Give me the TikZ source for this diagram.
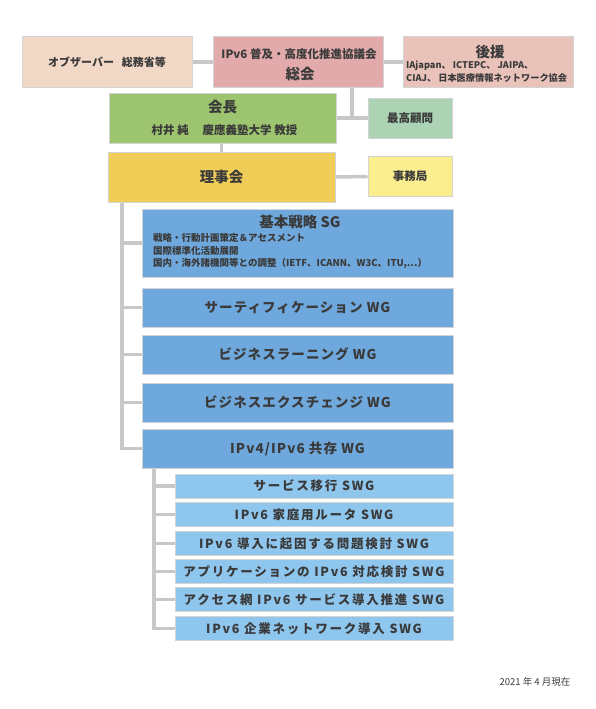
\documentclass[tikz,border=0pt]{standalone}
\usepackage{fontspec}
\setmainfont{Noto Sans CJK JP}
\definecolor{txt}{HTML}{3A3A3A}
\definecolor{conn}{HTML}{C8C8C8}
\definecolor{bord}{HTML}{D4D4D4}
\definecolor{cobs}{HTML}{F2D8C6}
\definecolor{cga}{HTML}{E2AAAA}
\definecolor{csup}{HTML}{E9C2BA}
\definecolor{cpres}{HTML}{9DC46F}
\definecolor{cadv}{HTML}{ABD3B4}
\definecolor{cboard}{HTML}{F0CD57}
\definecolor{csec}{HTML}{FBEE8F}
\definecolor{cwg}{HTML}{6FA8DC}
\definecolor{cswg}{HTML}{8EC6EE}
\tikzset{
  box/.style={draw=bord, line width=1pt, inner sep=1pt, align=center, text=txt, font=\bfseries},
  lbl/.style={text=txt, inner sep=0pt},
  link/.style={draw=conn, line width=3.5pt},
  wgbox/.style={box, fill=cwg, minimum width=311pt, minimum height=39pt, font=\bfseries\fontsize{13.5}{16}\selectfont\addfontfeature{LetterSpace=8}},
  swgbox/.style={box, fill=cswg, minimum width=278pt, minimum height=24pt, font=\bfseries\fontsize{12.5}{14}\selectfont\addfontfeature{LetterSpace=14}},
  smallbox/.style={box, minimum width=84pt, minimum height=40pt, font=\bfseries\fontsize{11.5}{13}\selectfont},
}
\begin{document}
\begin{tikzpicture}[x=1pt,y=-1pt]
\useasboundingbox (0,0) rectangle (595,709);
\coordinate (trunk) at (122,0);
\coordinate (strunk) at (154,0);
\coordinate (j) at (352,118);
% top row
\node[box, fill=cobs, minimum width=170pt, minimum height=50pt, font=\bfseries\fontsize{11}{13}\selectfont] (obs) at (107,62) {オブザーバー\hspace{0.7em}総務省等};
\node[box, fill=cga, minimum width=170pt, minimum height=50pt] (ga) at (298,62) {};
\node[lbl, font=\bfseries\fontsize{11.5}{13}\selectfont] (gat) at (299,54) {IPv6 普及・高度化推進協議会};
\node[lbl, font=\bfseries\fontsize{14.5}{16}\selectfont] (gab) at (300,74) {総会};
\node[box, fill=csup, minimum width=170pt, minimum height=50pt] (sup) at (488,62) {};
\node[lbl, font=\bfseries\fontsize{14.5}{16}\selectfont] (supt) at (490,52) {後援};
\node[lbl, font=\bfseries\fontsize{9.2}{12}\selectfont, align=left, anchor=west] (supl1) at (406,66) {IAjapan、 ICTEPC、 JAIPA、};
\node[lbl, font=\bfseries\fontsize{9.2}{12}\selectfont, align=left, anchor=west] (supl2) at (406,78) {CIAJ、 日本医療情報ネットワーク協会};
% president
\node[box, fill=cpres, minimum width=227pt, minimum height=50pt] (pres) at (222.5,118) {};
\node[lbl, font=\bfseries\fontsize{14.5}{16}\selectfont] (prest) at (222.5,107) {会長};
\node[lbl, font=\bfseries\fontsize{11.5}{13}\selectfont] (presb) at (224.5,130) {村井 純\hspace{1.2em}慶應義塾大学 教授};
\node[smallbox, fill=cadv] (adv) at (410,118) {最高顧問};
% board
\node[box, fill=cboard, minimum width=227pt, minimum height=50pt, font=\bfseries\fontsize{14.5}{16}\selectfont] (board) at (221.5,177) {理事会};
\node[smallbox, fill=csec] (sec) at (410,176.5) {事務局};
% SG
\node[box, fill=cwg, minimum width=311pt, minimum height=68pt] (sg) at (297.5,243) {};
\node[lbl, font=\bfseries\fontsize{14.5}{16}\selectfont] (sgt) at (300,222) {基本戦略 SG};
\node[lbl, font=\bfseries\fontsize{9.5}{12.5}\selectfont, anchor=west] (sgl1) at (153,238) {戦略・行動計画策定＆アセスメント};
\node[lbl, font=\bfseries\fontsize{9.5}{12.5}\selectfont, anchor=west] (sgl2) at (153,250.5) {国際標準化活動展開};
\node[lbl, font=\bfseries\fontsize{9.5}{12.5}\selectfont, anchor=west] (sgl3) at (153,263) {国内・海外諸機関等との調整（IETF、ICANN、W3C、ITU,…）};
% WGs
\node[wgbox] (wg1) at (297.5,307.5) {サーティフィケーション WG};
\node[wgbox] (wg2) at (297.5,354.5) {ビジネスラーニング WG};
\node[wgbox] (wg3) at (297.5,402.5) {ビジネスエクスチェンジ WG};
\node[wgbox] (wg4) at (297.5,448.5) {IPv4/IPv6 共存 WG};
% SWGs
\node[swgbox] (s1) at (314,486) {サービス移行 SWG};
\node[swgbox] (s2) at (314,514.5) {IPv6 家庭用ルータ SWG};
\node[swgbox] (s3) at (314,543.5) {IPv6 導入に起因する問題検討 SWG};
\node[swgbox] (s4) at (314,571.5) {アプリケーションの IPv6 対応検討 SWG};
\node[swgbox] (s5) at (314,599.5) {アクセス網 IPv6 サービス導入推進 SWG};
\node[swgbox] (s6) at (314,628.5) {IPv6 企業ネットワーク導入 SWG};
\node[lbl, font=\fontsize{9.5}{11}\selectfont] (date) at (535,682) {2021 年 4 月現在};
% connectors
\draw[link] (obs.east) -- (ga.west);
\draw[link] (ga.east) -- (sup.west);
\draw[link] (ga.south -| j) -- (j);
\draw[link] (pres.east) -- (adv.west);
\draw[link] (board.north) -- (board.north |- pres.south);
\draw[link] (board.east) -- (sec.west);
\draw[link] (board.south -| trunk) |- (wg4.west);
\draw[link] (sg.west -| trunk) -- (sg.west);
\draw[link] (wg1.west -| trunk) -- (wg1.west);
\draw[link] (wg2.west -| trunk) -- (wg2.west);
\draw[link] (wg3.west -| trunk) -- (wg3.west);
\draw[link] (wg4.south -| strunk) |- (s6.west);
\draw[link] (s1.west -| strunk) -- (s1.west);
\draw[link] (s2.west -| strunk) -- (s2.west);
\draw[link] (s3.west -| strunk) -- (s3.west);
\draw[link] (s4.west -| strunk) -- (s4.west);
\draw[link] (s5.west -| strunk) -- (s5.west);
\end{tikzpicture}
\end{document}
